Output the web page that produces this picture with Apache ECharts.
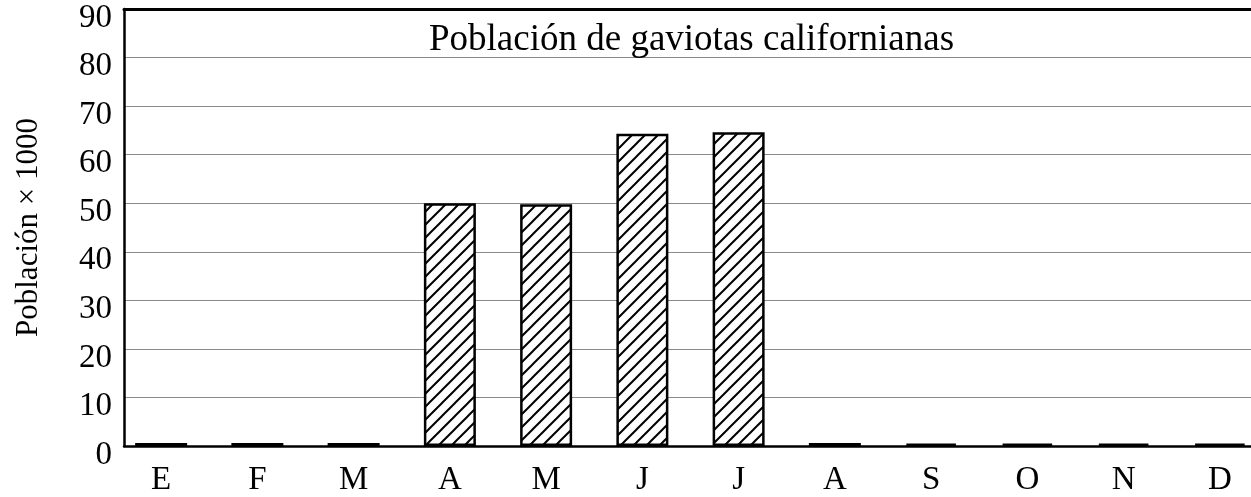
<!DOCTYPE html>
<html>
<head>
<meta charset="utf-8">
<script src="https://cdn.jsdelivr.net/npm/echarts@6/dist/echarts.min.js"></script>
<style>
  html, body { margin: 0; padding: 0; background: #fff; }
  #chart { width: 1251px; height: 497px; }
</style>
</head>
<body>
<div id="chart"></div>
<script>
// datos
const months = ['E', 'F', 'M', 'A', 'M', 'J', 'J', 'A', 'S', 'O', 'N', 'D']
const population = [0.6, 0.6, 0.6, 50, 49.8, 64.3, 64.6, 0.6, 0.5, 0.5, 0.5, 0.5]
const yTicks = [0, 10, 20, 30, 40, 50, 60, 70, 80, 90]

const serif = 'Liberation Serif'

// rayado diagonal para las barras
const tile = document.createElement('canvas')
tile.width = 13
tile.height = 13
const ctx = tile.getContext('2d')
ctx.fillStyle = '#fff'
ctx.fillRect(0, 0, 13, 13)
ctx.strokeStyle = '#000'
ctx.lineWidth = 2
ctx.beginPath()
ctx.moveTo(-1, 14); ctx.lineTo(14, -1)
ctx.moveTo(-2, 2); ctx.lineTo(2, -2)
ctx.moveTo(11, 15); ctx.lineTo(15, 11)
ctx.stroke()

const chart = echarts.init(document.getElementById('chart'))
chart.setOption({
  backgroundColor: '#fff',
  animation: false,
  title: {
    text: 'Población de gaviotas californianas',
    left: 424, top: 17,
    textStyle: { fontFamily: serif, fontSize: 37, fontWeight: 'normal', color: '#000' }
  },
  grid: [
    // marco, ejes y líneas de cuadrícula
    { left: 124, right: -20, top: 9, bottom: 51, outerBoundsMode: 'none' },
    // barras
    { left: 113, right: -17, top: 9, bottom: 51, outerBoundsMode: 'none' }
  ],
  xAxis: [
    {
      gridIndex: 0, type: 'category', data: months,
      axisLine: { lineStyle: { color: '#000', width: 2.5 } },
      axisTick: { show: false }, axisLabel: { show: false }
    },
    {
      // borde superior
      gridIndex: 0, type: 'category', data: months, position: 'top',
      axisLine: { lineStyle: { color: '#000', width: 3 } },
      axisTick: { show: false }, axisLabel: { show: false }
    },
    {
      gridIndex: 1, type: 'category', data: months,
      axisLine: { show: false }, axisTick: { show: false },
      axisLabel: { fontFamily: serif, fontSize: 33, color: '#000', margin: 18 }
    }
  ],
  yAxis: [
    {
      gridIndex: 0, type: 'value', min: yTicks[0], max: yTicks[yTicks.length - 1], interval: 10,
      name: 'Población × 1000', nameLocation: 'middle', nameGap: 80,
      nameTextStyle: { fontFamily: serif, fontSize: 31, color: '#000' },
      axisLine: { show: true, lineStyle: { color: '#000', width: 2.5 } },
      axisTick: { show: false },
      axisLabel: { fontFamily: serif, fontSize: 33, color: '#000', margin: 12, verticalAlign: 'top', lineHeight: 18 },
      splitLine: { lineStyle: { color: '#8a8a8a', width: 1.2 } }
    },
    {
      gridIndex: 1, type: 'value', min: yTicks[0], max: yTicks[yTicks.length - 1], interval: 10,
      axisLine: { show: false }, axisTick: { show: false }, axisLabel: { show: false },
      splitLine: { show: false }
    }
  ],
  series: [{
    type: 'bar', xAxisIndex: 2, yAxisIndex: 1,
    data: population,
    barWidth: 52,
    itemStyle: {
      color: { image: tile, repeat: 'repeat' },
      borderColor: '#000', borderWidth: 2.5
    }
  }]
})
</script>
</body>
</html>
